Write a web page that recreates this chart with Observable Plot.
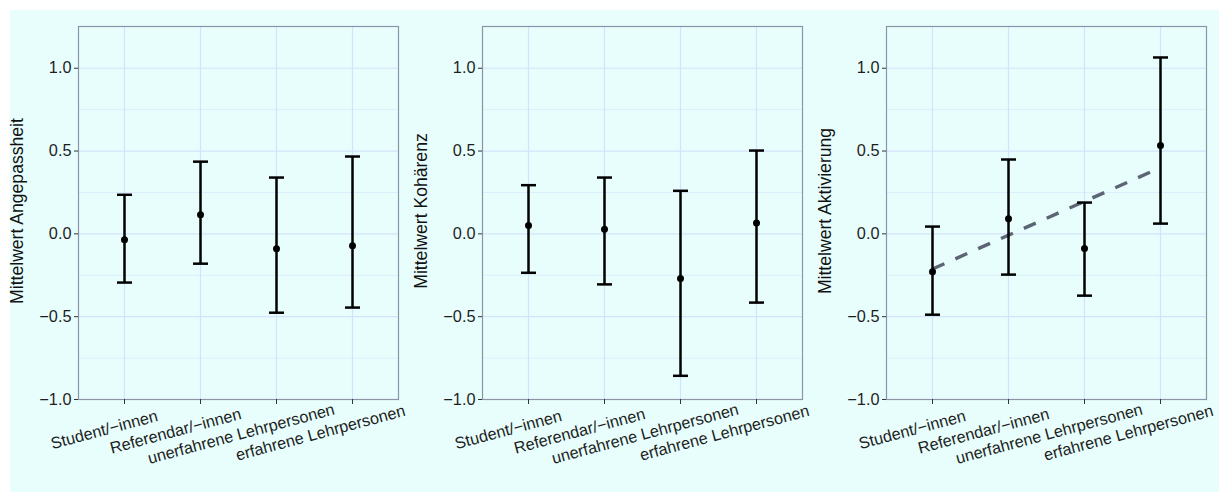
<!DOCTYPE html>
<html>
<head>
<meta charset="utf-8">
<script src="https://cdn.jsdelivr.net/npm/d3@7"></script>
<script src="https://cdn.jsdelivr.net/npm/@observablehq/plot@0.6"></script>
<style>
  html, body { margin: 0; padding: 0; background: #ffffff; }
  #wrap { position: relative; width: 1219px; height: 492px; overflow: hidden; }
  #bg { position: absolute; left: 10px; top: 10px; right: 0; bottom: 0; background: #e8fefd; }
  #row { position: absolute; left: 0; top: 0; display: flex; flex-direction: row; }
  #row svg { display: block; }
</style>
</head>
<body>
<div id="wrap"><div id="bg"></div><div id="row"></div></div>
<script>
// Categories (x axis)
const categories = ["Student/\u2212innen", "Referendar/\u2212innen", "unerfahrene Lehrpersonen", "erfahrene Lehrpersonen"];

// Panel titles (y axis)
const titles = ["Mittelwert Angepassheit", "Mittelwert Koh\u00e4renz", "Mittelwert Aktivierung"];

// Panel 1: Angepassheit
const meanAngepassheit = [-0.035, 0.115, -0.090, -0.071];
const lowAngepassheit  = [-0.294, -0.180, -0.476, -0.445];
const highAngepassheit = [0.236, 0.436, 0.340, 0.467];

// Panel 2: Kohärenz
const meanKohaerenz = [0.050, 0.028, -0.270, 0.066];
const lowKohaerenz  = [-0.235, -0.305, -0.857, -0.415];
const highKohaerenz = [0.294, 0.340, 0.260, 0.503];

// Panel 3: Aktivierung
const meanAktivierung = [-0.228, 0.092, -0.089, 0.533];
const lowAktivierung  = [-0.488, -0.246, -0.373, 0.062];
const highAktivierung = [0.044, 0.449, 0.189, 1.065];

// Trend line (panel 3 only), endpoints
const trendCategories = [categories[0], categories[3]];
const trendValues = [-0.212, 0.400];

// Y ticks
const yMajor = [-1, -0.5, 0, 0.5, 1];
const yMinor = [-0.75, -0.25, 0.25, 0.75];

function rows(mean, low, high) {
  return categories.map((c, i) => ({cat: c, mean: mean[i], low: low[i], high: high[i]}));
}

const panels = [
  {title: titles[0], data: rows(meanAngepassheit, lowAngepassheit, highAngepassheit), trend: null},
  {title: titles[1], data: rows(meanKohaerenz, lowKohaerenz, highKohaerenz), trend: null},
  {title: titles[2], data: rows(meanAktivierung, lowAktivierung, highAktivierung),
   trend: trendCategories.map((c, i) => ({cat: c, v: trendValues[i]}))}
];

// horizontal error-bar cap as a custom symbol (half-length = r)
const capSymbol = {
  draw(context, size) {
    const h = Math.sqrt(size / Math.PI);
    context.moveTo(-h, 0);
    context.lineTo(h, 0);
  }
};

const FONT = "'Liberation Sans', Arial, Helvetica, sans-serif";
const fmt = d3.format(".1f");
const row = document.getElementById("row");

panels.forEach((p) => {
  const marks = [
    Plot.gridY(yMinor, {stroke: "#dbeefa", strokeOpacity: 1, strokeWidth: 1}),
    Plot.gridY(yMajor, {stroke: "#d4e2fb", strokeOpacity: 1, strokeWidth: 1.2}),
    Plot.gridX(categories, {stroke: "#d4e2fb", strokeOpacity: 1, strokeWidth: 1.2}),
    Plot.frame({stroke: "#8b93a6", strokeWidth: 1.2}),
    Plot.axisY(yMajor, {tickSize: 4, text: null, label: null, stroke: "#333333"}),
    Plot.text(yMajor, {y: d => d, frameAnchor: "left", dx: -7, text: d => fmt(d), textAnchor: "end",
      lineAnchor: "middle", fontSize: 16.3, fill: "#1e1e1e"}),
    Plot.axisX(categories, {tickSize: 5, text: null, label: null, stroke: "#333333"}),
    Plot.text([p.title], {frameAnchor: "left", text: d => d, rotate: -90, dx: -61, dy: -2, fontSize: 17.6,
      textAnchor: "middle", fill: "#111111"}),
    Plot.text(categories, {x: d => d, frameAnchor: "bottom", dy: 25, text: d => d, rotate: -15,
      textAnchor: "start", lineAnchor: "middle", fontSize: 16.3, fill: "#1e1e1e"})
  ];
  if (p.trend) {
    marks.push(Plot.line(p.trend, {x: "cat", y: "v", stroke: "#5c6574", strokeWidth: 3.4,
      strokeDasharray: "13,12", strokeLinecap: "butt"}));
  }
  marks.push(
    Plot.ruleX(p.data, {x: "cat", y1: "low", y2: "high", stroke: "#000", strokeWidth: 2.5}),
    Plot.dot(p.data, {x: "cat", y: "high", symbol: capSymbol, r: 7.5, stroke: "#000", fill: "none", strokeWidth: 2.5}),
    Plot.dot(p.data, {x: "cat", y: "low", symbol: capSymbol, r: 7.5, stroke: "#000", fill: "none", strokeWidth: 2.5}),
    Plot.dot(p.data, {x: "cat", y: "mean", r: 3.5, fill: "#000", stroke: "none"})
  );
  const chart = Plot.plot({
    width: 404,
    height: 492,
    marginLeft: 78,
    marginRight: 6,
    marginTop: 26,
    marginBottom: 93,
    style: {background: "transparent", fontFamily: FONT, fontSize: "15px", overflow: "visible"},
    x: {type: "point", domain: categories, padding: 0.6, label: null, axis: null},
    y: {domain: [-1, 1.252], label: null, axis: null},
    marks
  });
  row.appendChild(chart);
  // ggplot-like hjust for rotated x labels: shift along rotated baseline
  chart.querySelectorAll('g[aria-label="text"] text').forEach((t) => {
    if (categories.includes(t.textContent)) {
      const w = t.getComputedTextLength();
      t.setAttribute("x", (-0.69 * w).toFixed(1));
    }
  });
});
</script>
</body>
</html>
